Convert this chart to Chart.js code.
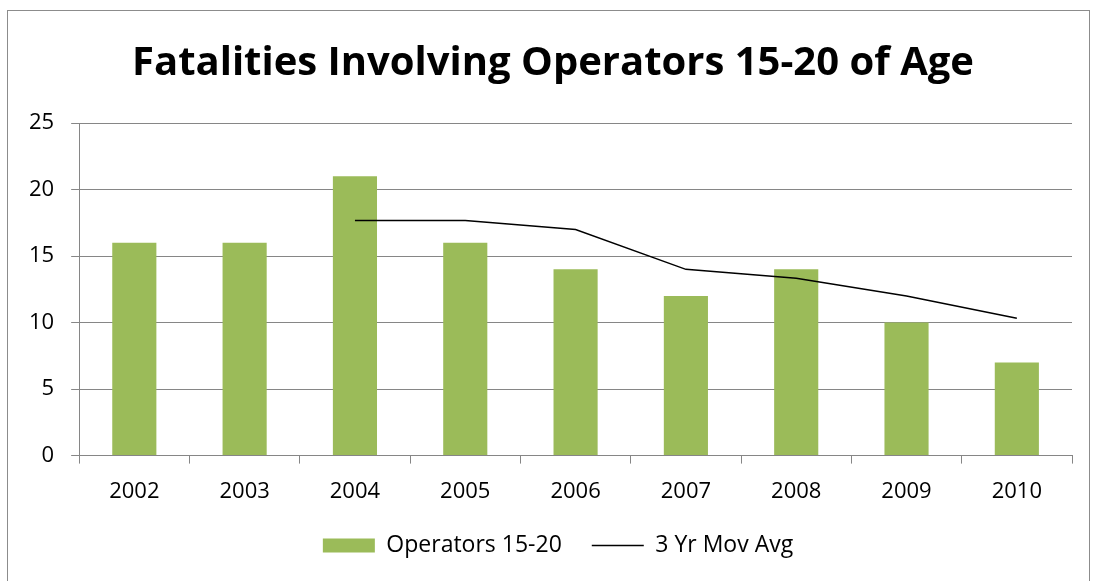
<!DOCTYPE html>
<html>
<head>
<meta charset="utf-8">
<script src="https://cdn.jsdelivr.net/npm/chart.js@4"></script>
<style>
  body { margin: 0; background: #fff; }
  #frame { position: absolute; left: 7px; top: 10px; width: 1081px; height: 600px; border: 1px solid #8c8c8c; }
  #wrap { position: absolute; left: 0; top: 0; width: 1094px; height: 581px; }
</style>
</head>
<body>
<div id="frame"></div>
<div id="wrap"><canvas id="chart"></canvas></div>
<script>
const years = ["2002", "2003", "2004", "2005", "2006", "2007", "2008", "2009", "2010"];
const operators = [16, 16, 21, 16, 14, 12, 14, 10, 7];
const movAvg = [null, null, 17.67, 17.67, 17, 14, 13.33, 12, 10.33];
const yTicks = [0, 5, 10, 15, 20, 25];

const FONT = "'Open Sans', 'Noto Sans', sans-serif";
const GRID = "#868686";

// nudge title and legend a little to the right, as in the original
const boxShift = {
  id: "boxShift",
  afterLayout(chart) {
    chart.legend.left += 16;
    chart.legend.right += 16;
    chart.titleBlock.left += 11;
    chart.titleBlock.right += 11;
  },
};

new Chart(document.getElementById("chart").getContext("2d"), {
  type: "bar",
  data: {
    labels: years,
    datasets: [
      {
        type: "line",
        label: "3 Yr Mov Avg",
        data: movAvg,
        borderColor: "#000000",
        borderWidth: 1.5,
        pointRadius: 0,
        tension: 0,
        fill: false,
        order: 0,
      },
      {
        label: "Operators 15-20",
        data: operators,
        backgroundColor: "#9BBB59",
        borderWidth: 0,
        categoryPercentage: 1,
        barPercentage: 0.4,
        order: 1,
      },
    ],
  },
  plugins: [boxShift],
  options: {
    responsive: true,
    maintainAspectRatio: false,
    animation: false,
    layout: { padding: { left: 12, right: 22, top: 0, bottom: 14 } },
    scales: {
      x: {
        offset: true,
        grid: { display: true, offset: true, drawOnChartArea: false, color: GRID, tickLength: 8, lineWidth: 1 },
        border: { display: true, color: GRID, width: 1 },
        ticks: { color: "#000", font: { family: FONT, size: 22 }, padding: 15 },
        afterFit: (axis) => { axis.height -= 16; },
      },
      y: {
        min: 0,
        max: 25,
        afterBuildTicks: (axis) => { axis.ticks = yTicks.map((v) => ({ value: v })); },
        grid: { color: GRID, tickLength: 8, lineWidth: 1 },
        border: { display: true, color: GRID, width: 1 },
        ticks: { color: "#000", font: { family: FONT, size: 22 }, padding: 17 },
      },
    },
    plugins: {
      title: {
        display: true,
        text: "Fatalities Involving Operators 15-20 of Age",
        color: "#000",
        font: { family: FONT, size: 40, weight: "bold" },
        padding: { top: 40, bottom: 35 },
      },
      legend: {
        position: "bottom",
        reverse: true,
        labels: {
          color: "#000",
          font: { family: FONT, size: 23 },
          usePointStyle: true,
          pointStyleWidth: 52,
          boxHeight: 14,
          padding: 30,
          generateLabels: (chart) =>
            Chart.defaults.plugins.legend.labels.generateLabels(chart).map((l) => {
              if (l.text === "3 Yr Mov Avg") {
                l.pointStyle = "line";
                l.lineWidth = 1.5;
                l.strokeStyle = "#000";
              } else {
                l.pointStyle = "rect";
                l.lineWidth = 0;
              }
              return l;
            }),
        },
      },
      tooltip: { enabled: false },
    },
  },
});
</script>
</body>
</html>
